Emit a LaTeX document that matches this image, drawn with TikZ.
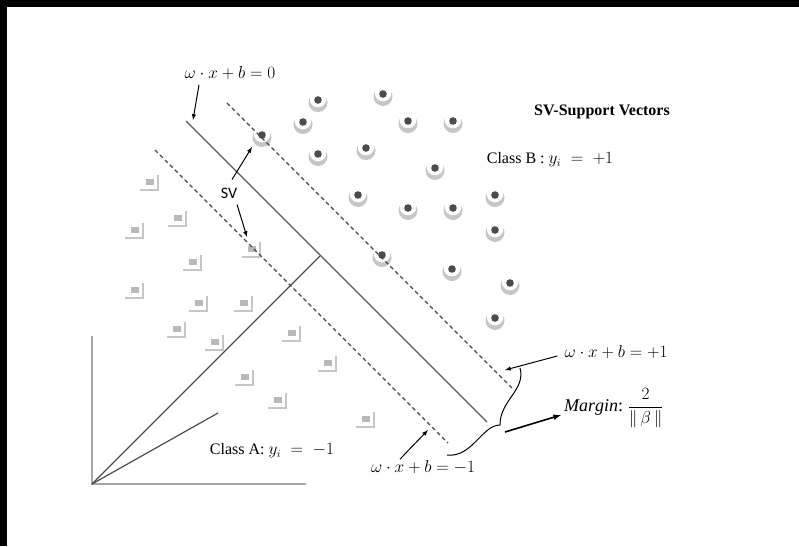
\documentclass[tikz,border=0pt]{standalone}
\usepackage{amsmath,amssymb}
\usepackage{fontspec}
\setmainfont{Liberation Serif}
\newfontfamily\svfont{Carlito}

\begin{document}
\begin{tikzpicture}[x=1pt, y=-1pt, >=latex,
                    ptB/.pic={\fill[gray!45] (0,2.5) circle (9.5);
                              \fill[white] (0,-1) circle (8.3);
                              \fill[gray!60!black] (0,0) circle (3.8);},
                    ptA/.pic={\draw[gray!45, line width=1.8pt] (-10,8) -- (8,8) -- (8,-7);
                              \fill[gray!55] (-4,-3) rectangle (4,3);},
                    eqn/.style={font=\fontsize{18}{20}\selectfont, inner sep=1pt},
                    cls/.style={font=\fontsize{16}{18}\selectfont, inner sep=1pt},
                    hyp/.style={gray!70!black, line width=1.1pt},
                    marg/.style={gray!55!black, line width=1.1pt, dash pattern=on 4pt off 3pt}]
  \useasboundingbox (0,0) rectangle (799,546);
  \fill[black] (0,0) rectangle (799,7);
  \fill[black] (0,0) rectangle (7,546);
  % class B (circles) and class A (squares)
  \foreach \p in {(318,100),(383,94),(303,122),(408,121),(453,121),(318,154),(366,148),
                  (435,168),(358,195),(408,208),(453,208),(495,195),(495,230),(382,255),
                  (452,269),(510,283),(495,318),(262,135)}
    \pic at \p {ptB};
  \foreach \p in {(150,182),(178,218),(135,230),(193,262),(135,290),(199,303),(244,303),
                  (177,329),(215,342),(292,333),(328,363),(245,377),(278,400),(366,419),(252,249)}
    \pic at \p {ptA};
  \coordinate (o) at (92,484);
  \coordinate (w) at (320,256);
  \coordinate (u) at (218,413);
  \coordinate (svB) at (252,147);
  \coordinate (svA) at (247,237);
  \draw[gray!70, line width=2.4pt] (92,336) -- (o) -- (306,484);
  \draw[gray!60!black, line width=1.2pt] (o) -- (w);
  \draw[gray!60!black, line width=1.2pt] (o) -- (u);
  \draw[hyp] (186,121) -- (487,422);
  \draw[marg] (227,103) -- (512,388);
  \draw[marg] (155,150) -- (448,443);
  % brace
  \coordinate (bt) at (505,432);
  \draw[line width=1pt] (520,368) .. controls (526,390) and (500,400) .. (500,425)
                        .. controls (482,425) and (472,458) .. (447,455);
  \node[eqn] (eq0) at (230,73) {$\omega\cdot x+b=0$};
  \node[eqn] (eqp) at (616,352) {$\omega\cdot x+b=+1$};
  \node[eqn] (eqm) at (423,467) {$\omega\cdot x+b=-1$};
  \node[font=\bfseries\fontsize{16}{18}\selectfont] (title) at (602,112) {SV-Support Vectors};
  \node[cls] (clsB) at (550,160) {Class B : $y_i\;=\;+1$};
  \node[cls] (clsA) at (272,451) {Class A: $y_i\;=\;-1$};
  \node[font=\svfont\fontsize{16}{18}\selectfont, inner sep=1pt] (sv) at (229,193) {SV};
  \node[font=\fontsize{18}{20}\selectfont, inner sep=1pt, anchor=west] (mg) at (563,408)
       {$\mathit{Margin}\text{:}\ \dfrac{2}{\lVert\,\beta\,\rVert}$};
  \draw[->, line width=1pt] ([shift={(-31,4)}]eq0.south) -- (193,120);
  \draw[->, line width=1pt] ([shift={(3,-7)}]sv.north) -- (svB);
  \draw[->, line width=1pt] ([shift={(8,5)}]sv.south) -- (svA);
  \draw[->, line width=1pt] ([shift={(-23,0)}]eqm.north) -- (428,430);
  \draw[->, line width=1pt] ([shift={(-6,4)}]eqp.west) -- (505,370);
  \draw[->, line width=1.6pt] (bt) -- ([shift={(-2,7)}]mg.west);
\end{tikzpicture}
\end{document}
